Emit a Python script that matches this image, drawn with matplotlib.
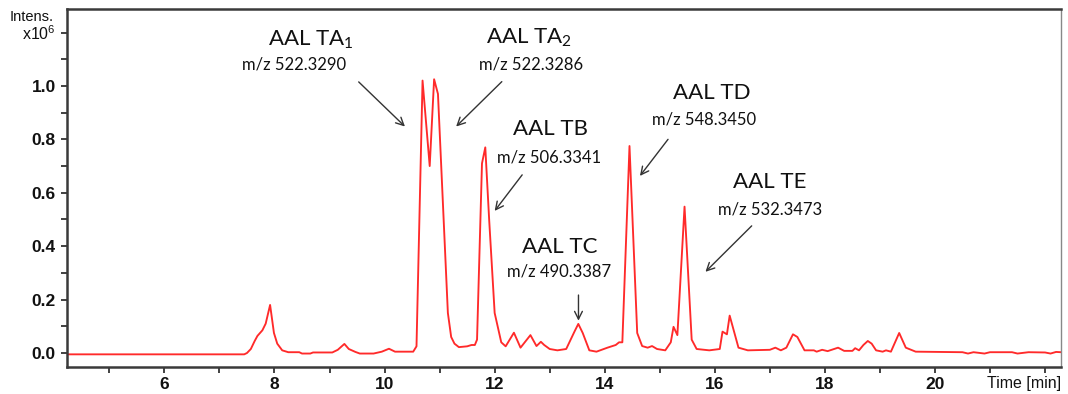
import matplotlib
matplotlib.use("Agg")
import matplotlib.pyplot as plt
from matplotlib.ticker import FixedLocator, FixedFormatter

# ---- data (time in min, intensity x10^6) ----
time_min = [4.23, 7.45, 7.50, 7.57, 7.64, 7.69, 7.78, 7.84, 7.92, 7.99, 8.05, 8.14, 8.25, 8.45,
            8.50, 8.65, 8.70, 9.05, 9.15, 9.27, 9.35, 9.47, 9.55, 9.80, 9.95, 10.08, 10.19,
            10.52, 10.58, 10.69, 10.82, 10.90, 10.97, 11.15, 11.21, 11.27, 11.35, 11.50,
            11.58, 11.64, 11.68, 11.77, 11.83, 11.90, 12.00, 12.12, 12.20, 12.35, 12.47,
            12.65, 12.76, 12.84, 12.90, 13.00, 13.14, 13.30, 13.45, 13.52, 13.60, 13.72,
            13.85, 14.05, 14.20, 14.26, 14.32, 14.45, 14.59, 14.68, 14.78, 14.86, 14.95,
            15.10, 15.20, 15.25, 15.32, 15.45, 15.58, 15.67, 15.90, 16.09, 16.14, 16.22,
            16.27, 16.43, 16.60, 17.00, 17.10, 17.20, 17.30, 17.42, 17.50, 17.63, 17.80,
            17.85, 17.95, 18.05, 18.24, 18.35, 18.50, 18.55, 18.62, 18.70, 18.78, 18.85,
            18.93, 19.05, 19.11, 19.20, 19.35, 19.47, 19.65, 20.50, 20.60, 20.70, 20.90,
            21.00, 21.40, 21.50, 21.70, 22.00, 22.10, 22.20, 22.29]
intensity = [-0.005, -0.005, 0.000, 0.015, 0.045, 0.064, 0.085, 0.110, 0.180, 0.075, 0.035,
             0.010, 0.003, 0.003, -0.002, -0.002, 0.002, 0.002, 0.012, 0.034, 0.015, 0.004,
             -0.002, -0.002, 0.005, 0.016, 0.005, 0.005, 0.025, 1.020, 0.700, 1.025, 0.970,
             0.150, 0.060, 0.035, 0.022, 0.025, 0.030, 0.030, 0.050, 0.710, 0.770, 0.500,
             0.150, 0.040, 0.025, 0.076, 0.020, 0.067, 0.026, 0.042, 0.030, 0.015, 0.010,
             0.015, 0.080, 0.109, 0.075, 0.010, 0.005, 0.020, 0.030, 0.040, 0.040, 0.775,
             0.075, 0.026, 0.020, 0.026, 0.015, 0.010, 0.040, 0.098, 0.067, 0.548, 0.050,
             0.015, 0.010, 0.015, 0.080, 0.070, 0.140, 0.020, 0.010, 0.012, 0.020, 0.010,
             0.020, 0.070, 0.060, 0.010, 0.010, 0.005, 0.012, 0.007, 0.020, 0.008, 0.008,
             0.018, 0.010, 0.030, 0.045, 0.035, 0.010, 0.005, 0.010, 0.005, 0.075, 0.020,
             0.005, 0.003, -0.002, 0.003, -0.002, 0.003, 0.003, -0.002, 0.003, 0.002,
             -0.002, 0.004, 0.003]

peak_names = ["AAL TA$_\\mathregular{1}$", "AAL TA$_\\mathregular{2}$", "AAL TB", "AAL TC", "AAL TD", "AAL TE"]
peak_mz = ["m/z 522.3290", "m/z 522.3286", "m/z 506.3341", "m/z 490.3387", "m/z 548.3450", "m/z 532.3473"]

x_major = [6, 8, 10, 12, 14, 16, 18, 20]
x_labels = ["6", "8", "10", "12", "14", "16", "18", "20"]
y_major = [0.0, 0.2, 0.4, 0.6, 0.8, 1.0, 1.2]
y_labels = ["0.0", "0.2", "0.4", "0.6", "0.8", "1.0", "x10$^\\mathregular{6}$"]

# annotation placements (data coordinates)
name_xy = [(8.65, 1.172), (12.63, 1.179), (13.01, 0.838), (13.19, 0.398), (15.95, 0.974), (16.99, 0.642)]
mz_xy = [(8.35, 1.079), (12.66, 1.079), (12.99, 0.733), (13.17, 0.304), (15.80, 0.875), (17.00, 0.538)]
arrow_from = [(9.53, 1.015), (12.13, 1.016), (12.50, 0.667), (13.523, 0.217), (15.15, 0.800), (16.67, 0.476)]
arrow_to = [(10.37, 0.848), (11.30, 0.848), (12.00, 0.532), (13.523, 0.121), (14.64, 0.663), (15.83, 0.304)]

plt.rcParams['mathtext.fontset'] = 'custom'
plt.rcParams['mathtext.rm'] = 'Lato'

fig = plt.figure(figsize=(10.68, 3.94), dpi=100)
ax = fig.add_axes([67/1068, 1 - 367/394, (1061 - 67)/1068, (367 - 9)/394])

ax.plot(time_min, intensity, color="#ff2a2a", lw=1.35, solid_joinstyle="round")
ax.set_xlim(4.23, 22.29)
ax.set_ylim(-0.0524, 1.288)

ax.xaxis.set_major_locator(FixedLocator(x_major))
ax.xaxis.set_major_formatter(FixedFormatter(x_labels))
ax.xaxis.set_minor_locator(FixedLocator([5, 7, 9, 11, 13, 15, 17, 19, 21, 22]))
ax.yaxis.set_major_locator(FixedLocator(y_major))
ax.yaxis.set_major_formatter(FixedFormatter(y_labels))
ax.yaxis.set_minor_locator(FixedLocator([0.1, 0.3, 0.5, 0.7, 0.9, 1.1]))

tick_col = "#333333"
ax.tick_params(which="both", direction="out", length=4, width=1.3, color=tick_col)
ax.tick_params(axis="x", which="major", pad=3, labelsize=12.5)
ax.tick_params(axis="y", which="major", pad=4, labelsize=12.5)
for lab in ax.get_xticklabels() + ax.get_yticklabels():
    lab.set_fontfamily("Liberation Sans")
    lab.set_fontweight("bold")
    lab.set_color("#111111")
ylabs = ax.get_yticklabels()
ylabs[-1].set_fontsize(11.5)
ylabs[-1].set_fontweight("normal")

for side in ["left", "bottom", "top"]:
    ax.spines[side].set_linewidth(1.8)
    ax.spines[side].set_color("#3a3a3a")
ax.spines["right"].set_linewidth(1.0)
ax.spines["right"].set_color("#888888")

fig.text(10/1068, 1 - 17/394, "Intens.", fontsize=10.5, family="Liberation Sans",
         ha="left", va="center", color="#111111")
ax.text(1.0, -0.045, "Time [min]", transform=ax.transAxes, ha="right", va="center",
        fontsize=11.5, family="Liberation Sans", color="#111111")

for nm, mz, nxy, mxy, a0, a1 in zip(peak_names, peak_mz, name_xy, mz_xy, arrow_from, arrow_to):
    ax.text(nxy[0], nxy[1], nm, ha="center", va="center", fontsize=16, family="Lato", color="#111111")
    ax.text(mxy[0], mxy[1], mz, ha="center", va="center", fontsize=12, family="Lato", color="#111111")
    ax.annotate("", xy=a1, xytext=a0,
                arrowprops=dict(arrowstyle="->", color="#333333", lw=1.0,
                                mutation_scale=14, shrinkA=0, shrinkB=0))

fig.savefig("out.png", dpi=100)
